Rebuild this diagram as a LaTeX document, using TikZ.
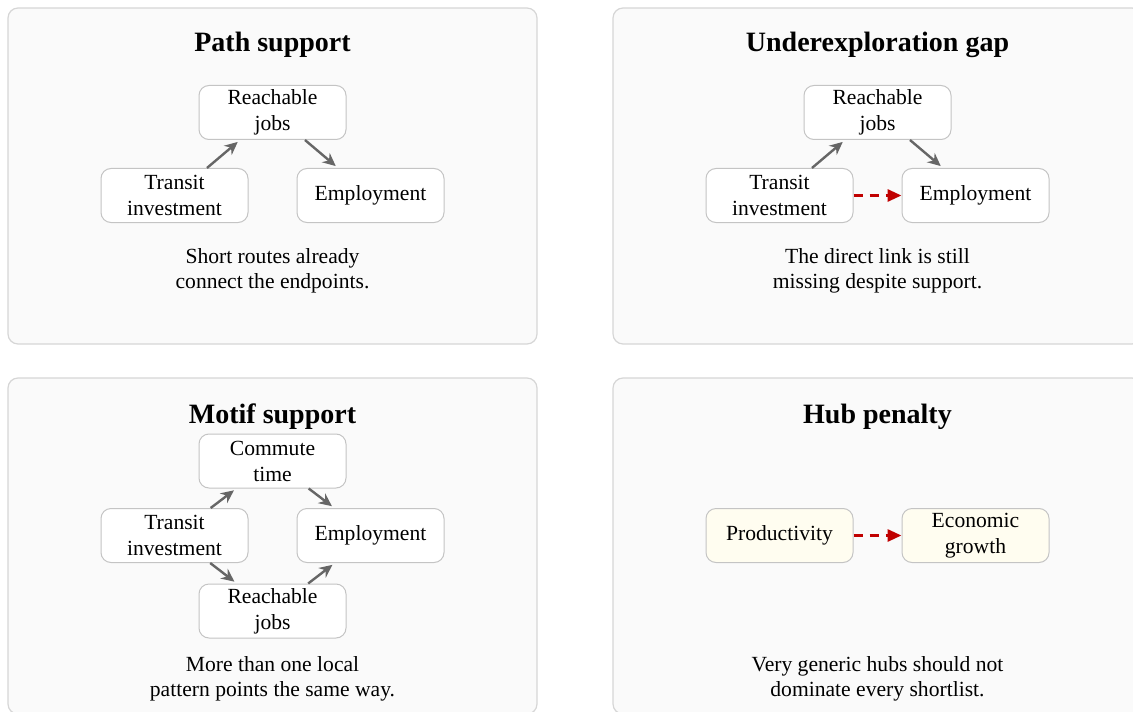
\documentclass[tikz,border=0pt]{standalone}
\usepackage{fontspec}
\setmainfont{Liberation Serif}
\usetikzlibrary{arrows.meta}

\definecolor{panelfill}{HTML}{FAFAFA}
\definecolor{panelline}{HTML}{D6D6D6}
\definecolor{boxline}{HTML}{C4C4C4}
\definecolor{linkgray}{HTML}{666666}
\definecolor{gapred}{HTML}{C00000}
\definecolor{hubfill}{HTML}{FFFDF0}

\tikzset{
  panel/.style={draw=panelline, fill=panelfill, line width=0.6pt, rounded corners=5pt},
  concept/.style={draw=boxline, fill=white, line width=0.5pt, rounded corners=5pt,
    minimum width=73.5pt, minimum height=27pt, inner sep=2pt, align=center,
    font=\fontsize{10.8}{13}\selectfont},
  hub/.style={concept, fill=hubfill},
  title/.style={anchor=base, font=\fontsize{14}{16}\selectfont\bfseries},
  caption/.style={align=center, font=\fontsize{10.8}{12.5}\selectfont},
  link/.style={-{Stealth[length=6.5pt,width=6pt]}, draw=linkgray, line width=1.2pt, shorten >=1.5pt},
  gap/.style={-{Triangle[length=7pt,width=6pt]}, draw=gapred, line width=1.5pt, dash pattern=on 4.5pt off 3.5pt}
}

\begin{document}
\begin{tikzpicture}[x=0.5pt, y=-0.5pt]
        \useasboundingbox (0,0) rectangle (1133,711);
        \clip (0,0) rectangle (1133,711);

        % Panels
        \draw[panel] (8,8) rectangle (537,344);
        \draw[panel] (613,8) rectangle (1142,344);
        \draw[panel] (8,378) rectangle (537,714);
        \draw[panel] (613,378) rectangle (1142,714);

        % Path support
        \node[title] (pathtitle) at (272.5,52) {Path support};
        \node[concept] (pjobs) at (272.5,112.5) {Reachable\\jobs};
        \node[concept] (ptransit) at (174.5,195.5) {Transit\\investment};
        \node[concept] (pemploy) at (370.5,195.5) {Employment};
        \node[caption] (pathnote) at (272.5,271) {Short routes already\\connect the endpoints.};
        \draw[link] (ptransit) -- (pjobs);
        \draw[link] (pjobs) -- (pemploy);

        % Underexploration gap
        \node[title] (gaptitle) at (877.5,52) {Underexploration gap};
        \node[concept] (gjobs) at (877.5,112.5) {Reachable\\jobs};
        \node[concept] (gtransit) at (779.5,195.5) {Transit\\investment};
        \node[concept] (gemploy) at (975.5,195.5) {Employment};
        \node[caption] (gapnote) at (877.5,271) {The direct link is still\\missing despite support.};
        \draw[link] (gtransit) -- (gjobs);
        \draw[link] (gjobs) -- (gemploy);
        \draw[gap] (gtransit) -- (gemploy);

        % Motif support
        \node[title] (motiftitle) at (272.5,423) {Motif support};
        \node[concept] (mcommute) at (272.5,461) {Commute\\time};
        \node[concept] (mtransit) at (174.5,535.5) {Transit\\investment};
        \node[concept] (memploy) at (370.5,535.5) {Employment};
        \node[concept] (mjobs) at (272.5,611) {Reachable\\jobs};
        \node[caption] (motifnote) at (272.5,679) {More than one local\\pattern points the same way.};
        \draw[link] (mtransit) -- (mcommute);
        \draw[link] (mcommute) -- (memploy);
        \draw[link] (mtransit) -- (mjobs);
        \draw[link] (mjobs) -- (memploy);

        % Hub penalty
        \node[title] (hubtitle) at (877.5,423) {Hub penalty};
        \node[hub] (hprod) at (779.5,535.5) {Productivity};
        \node[hub] (hgrowth) at (975.5,535.5) {Economic\\growth};
        \node[caption] (hubnote) at (877.5,679) {Very generic hubs should not\\dominate every shortlist.};
        \draw[gap] (hprod) -- (hgrowth);
\end{tikzpicture}
\end{document}
